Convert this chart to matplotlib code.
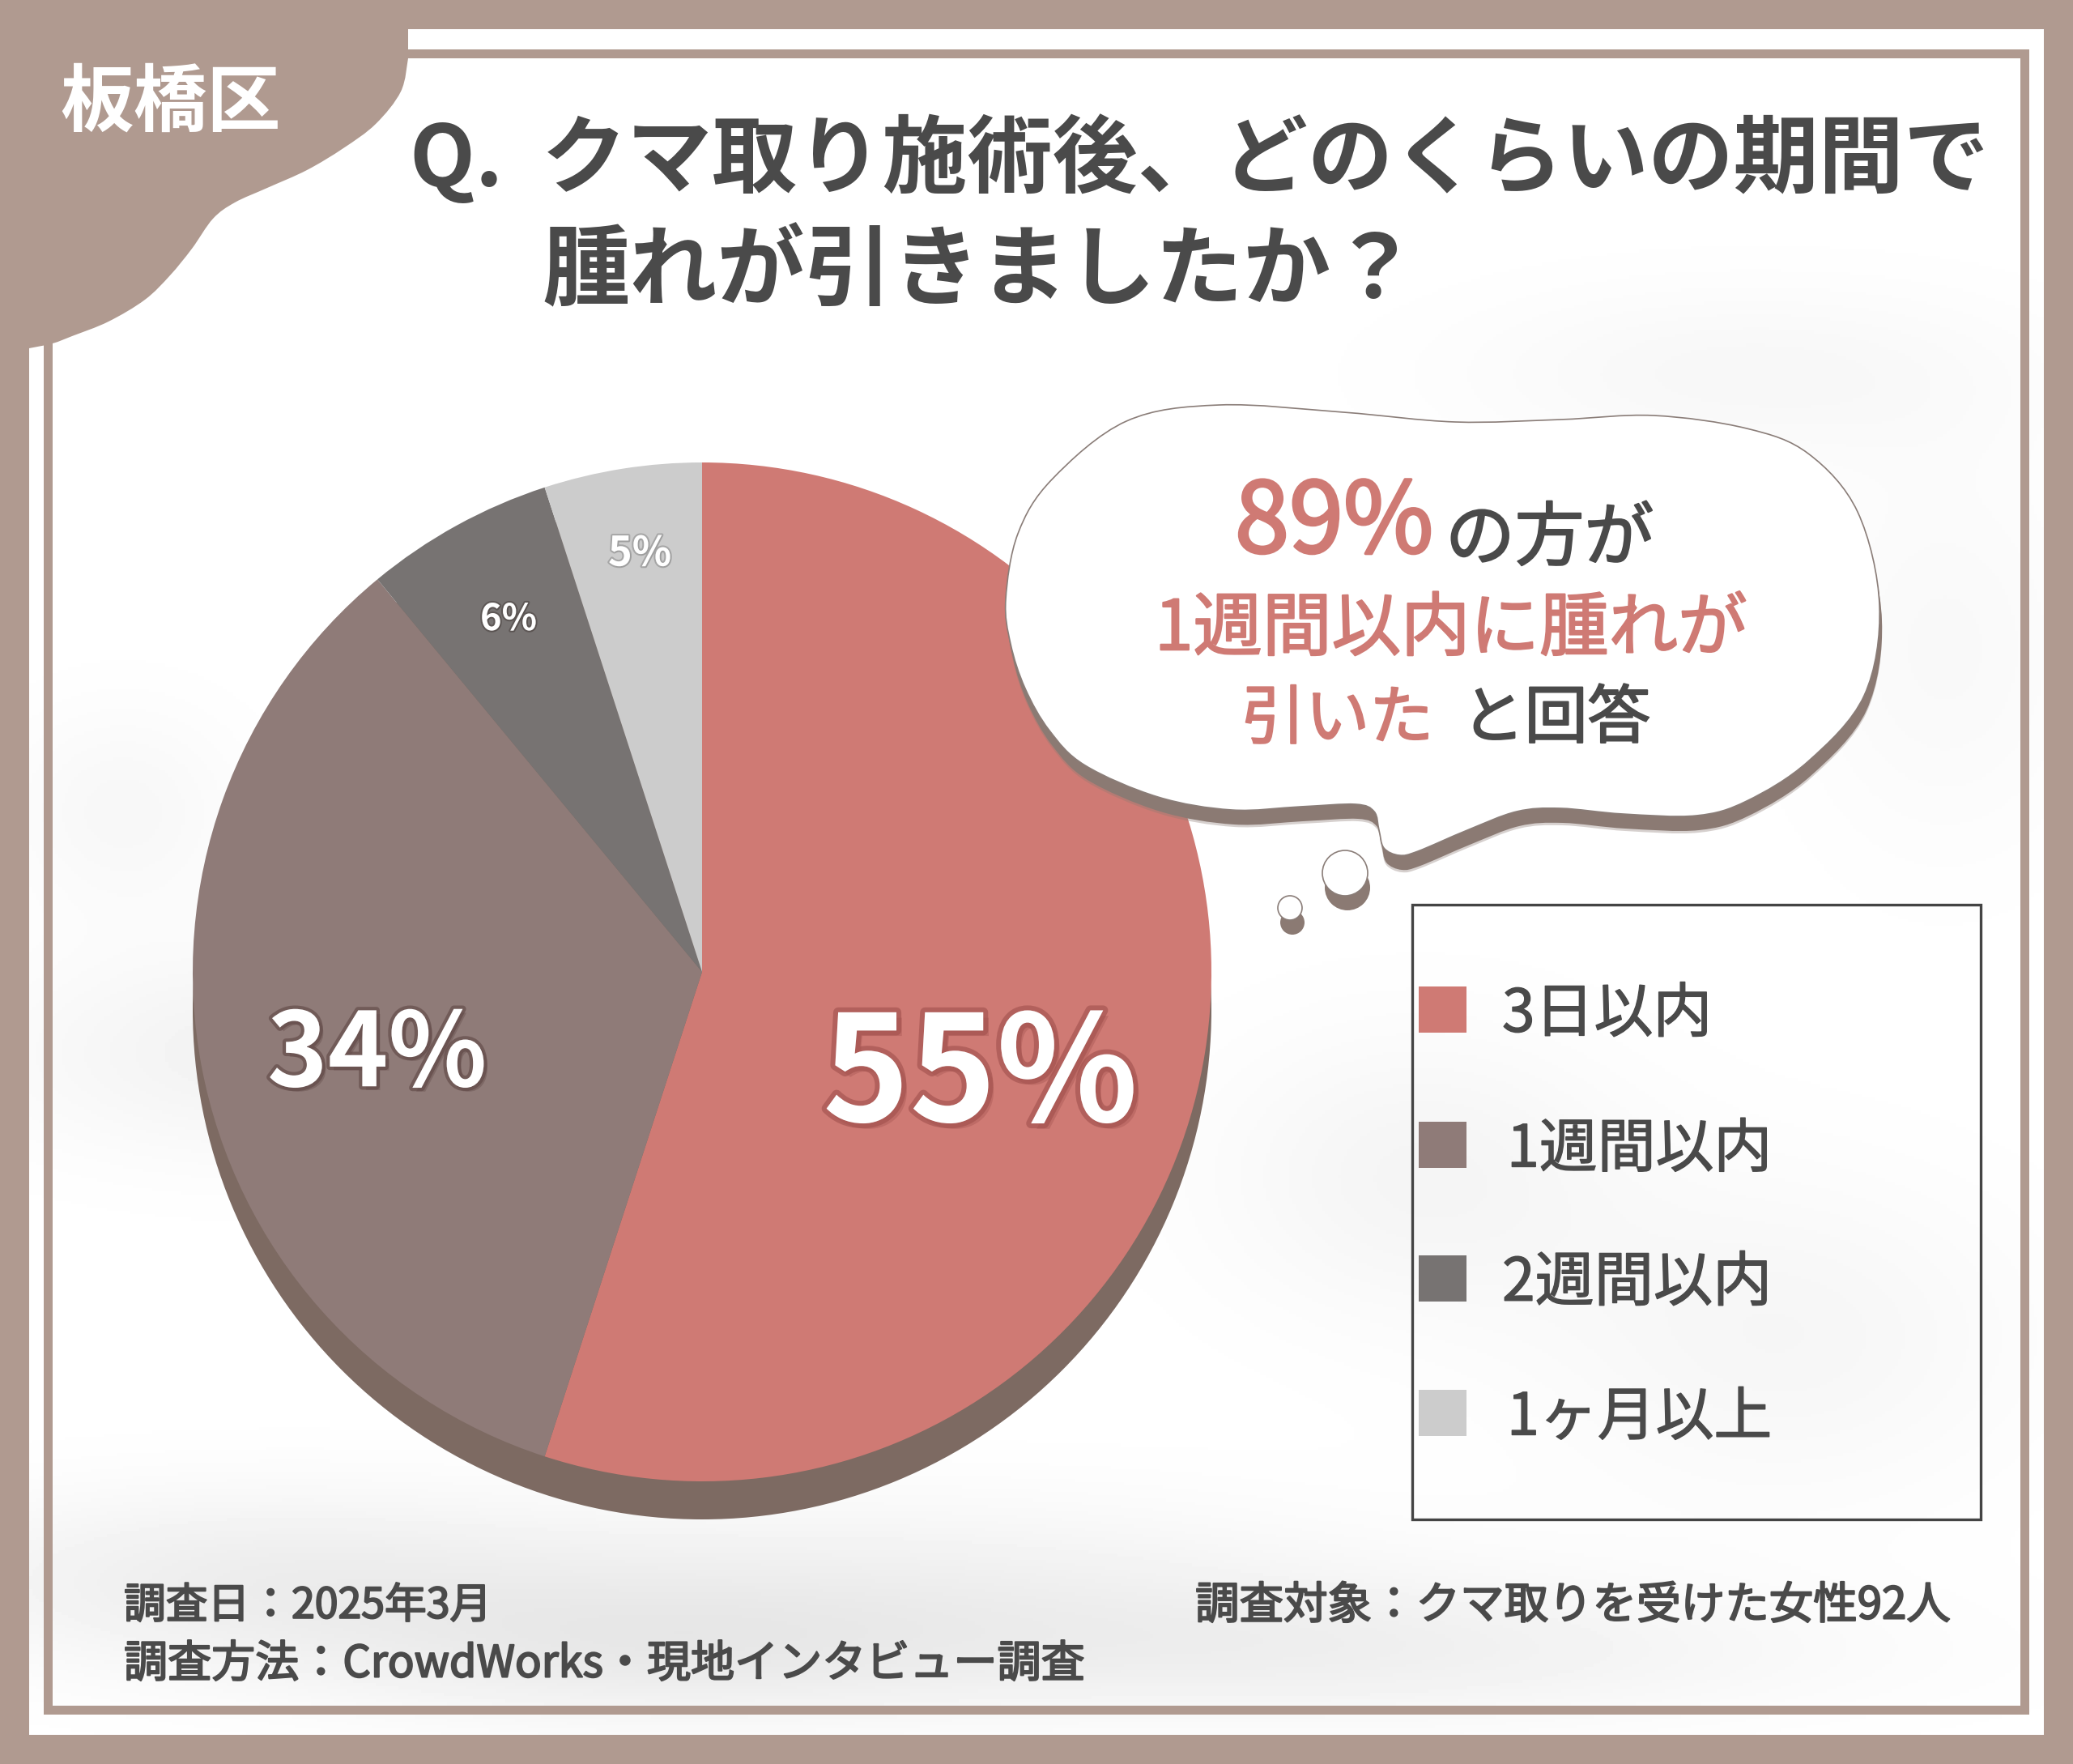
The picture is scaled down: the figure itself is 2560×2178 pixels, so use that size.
import numpy as np
import matplotlib
matplotlib.use("Agg")
import matplotlib.pyplot as plt
from matplotlib.patches import PathPatch, Rectangle, Ellipse
from matplotlib.path import Path
import matplotlib.patheffects as pe

plt.rcParams['font.family'] = ['Noto Sans CJK JP', 'DejaVu Sans']

# ---------- data ----------
categories = ['3日以内', '1週間以内', '2週間以内', '1ヶ月以上']
values = [55, 34, 6, 5]
colors = ['#CF7A74', '#8F7B78', '#777372', '#CCCCCC']
title_lines = ['Q.  クマ取り施術後、どのくらいの期間で', '腫れが引きましたか？']
area_name = '板橋区'
footer = ['調査日：2025年3月', '調査方法：CrowdWorks・現地インタビュー調査', '調査対象：クマ取りを受けた女性92人']

W, H = 2560, 2178
BG = '#B09A90'
DARK = '#4A4A4A'
RED = '#CF7A74'


def Y(y):
    return H - y


fig = plt.figure(figsize=(W / 100, H / 100), dpi=100, facecolor=BG)
ax = fig.add_axes([0, 0, 1, 1])
renderer = fig.canvas.get_renderer()

# ---------- pie ----------
cx, cy, R = 867, 1200, 629
ax.pie([sum(values)], colors=['#7D6A62'], center=(cx, Y(cy + 47)), radius=R,
       wedgeprops={'zorder': 3, 'linewidth': 0})
ax.pie(values, colors=colors, startangle=90, counterclock=False,
       center=(cx, Y(cy)), radius=R, wedgeprops={'zorder': 4, 'linewidth': 0})

# ---------- panel ----------
ax.add_patch(Rectangle((36, Y(2142)), 2524 - 36, 2142 - 36, fc='white', ec='none', zorder=0))
yy, xx = np.mgrid[36:2142:4, 36:2524:4]
blobs = [(330, 1300, 330, 130, .05), (300, 1950, 420, 110, .06), (800, 2040, 420, 90, .06),
         (150, 1000, 150, 130, .03), (1750, 1450, 260, 180, .04), (2200, 1650, 300, 200, .035),
         (1650, 2040, 600, 90, .055), (2150, 460, 350, 110, .03), (2400, 800, 180, 250, .025),
         (1100, 1950, 600, 110, .045)]
shade = np.zeros_like(xx, dtype=float)
for bx, by, sx, sy, a in blobs:
    shade += a * np.exp(-((xx - bx) / sx) ** 2 - ((yy - by) / sy) ** 2)
ax.imshow(np.clip(1 - shade, 0, 1), cmap='gray', vmin=0, vmax=1, aspect='auto',
          extent=(36, 2524, Y(2142), Y(36)), origin='upper', zorder=0.5)
# inner frame
for (x0, y0, x1, y1) in [(54, 61, 2506, 72), (54, 2106, 2506, 2117), (54, 61, 65, 2117), (2495, 61, 2506, 2117)]:
    ax.add_patch(Rectangle((x0, Y(y1)), x1 - x0, y1 - y0, fc=BG, ec='none', zorder=1))


def curve_segments(P, closed):
    """Catmull-Rom through P, as cubic Bezier vertices."""
    n = len(P)
    v, c = [], []
    for i in range(n if closed else n - 1):
        p0 = P[i - 1] if (closed or i > 0) else P[i]
        p1 = P[i]
        p2 = P[(i + 1) % n]
        p3 = P[(i + 2) % n] if (closed or i + 2 < n) else p2
        v += [p1 + (p2 - p0) / 6, p2 - (p3 - p1) / 6, p2]
        c += [Path.CURVE4] * 3
    return v, c


def to_xy(pts):
    P = np.asarray(pts, float)
    P[:, 1] = H - P[:, 1]
    return P


def smooth_closed(pts):
    P = to_xy(pts)
    v, c = curve_segments(P, True)
    return Path(np.array([P[0]] + v), [Path.MOVETO] + c)


# corner tab
tab_edge = [(504, 72), (495, 113), (464, 153), (424, 183), (379, 210), (330, 232), (290, 250),
            (263, 270), (237, 307), (210, 340), (179, 370), (134, 397), (89, 415), (65, 424), (36, 430)]
E = to_xy(tab_edge)
tv, tc = curve_segments(E, False)
tab_path = Path(np.array([[0, H], [504, H], E[0]] + tv + [[0, Y(430)], [0, H]]),
                [Path.MOVETO, Path.LINETO, Path.LINETO] + tc + [Path.LINETO, Path.CLOSEPOLY])
ax.add_patch(PathPatch(tab_path, fc=BG, ec='none', zorder=2))

# ---------- bubble ----------
bubble = [(1242, 740), (1257, 659), (1299, 592), (1391, 520), (1506, 500), (1659, 509), (1797, 521), (1927, 518),
          (2042, 513), (2157, 529), (2233, 560), (2294, 632), (2321, 748), (2302, 859), (2233, 940),
          (2157, 989), (2095, 1007), (2004, 1005), (1927, 998), (1873, 1002), (1812, 1025), (1751, 1051),
          (1728, 1056), (1709, 1047), (1703, 1025), (1697, 1002), (1674, 993), (1606, 996), (1521, 1000),
          (1430, 984), (1340, 945), (1296, 902), (1266, 850), (1248, 795)]
SH = '#8B7A73'
sdx, sdy = 3, 18
for off, a in [(3, .35), (0, 1)]:
    ax.add_patch(PathPatch(smooth_closed([(x + sdx, y + sdy + off) for x, y in bubble]), fc=SH, ec='none',
                           alpha=a, zorder=6))
ax.add_patch(PathPatch(smooth_closed(bubble), fc='white', ec='#8A7D78', lw=1.2, zorder=7))
for ex, ey, r in [(1661, 1078, 28), (1593, 1121, 15)]:
    ax.add_patch(Ellipse((ex + sdx, Y(ey + sdy)), 2 * r, 2 * r, fc=SH, ec='none', zorder=6))
    ax.add_patch(Ellipse((ex, Y(ey)), 2 * r, 2 * r, fc='white', ec='#8A7D78', lw=1.2, zorder=7))


# ---------- text helper ----------
def fit(s, x0, x1, y, color=DARK, weight='normal', va='center', z=10, effects=None, fatten=0):
    t = ax.text(x0, Y(y + 6), s, ha='left', va=va, color=color, fontsize=40, fontweight=weight, zorder=z)
    t.set_fontsize(40 * (x1 - x0) / t.get_window_extent(renderer).width)
    fx = list(effects or [])
    if fatten:
        fx += [pe.Stroke(linewidth=fatten, foreground=color), pe.Normal()]
    if fx:
        t.set_path_effects(fx)
    return t


fit(area_name, 74, 346, 122, color='white', weight='bold')
fit(title_lines[0], 506, 2454, 191, weight='bold')
fit(title_lines[1], 669, 1750, 331, weight='bold')

# bubble text
fit('89%', 1525, 1770, 704, color=RED, va='bottom', fatten=2.5)
fit('の方が', 1785, 2042, 705, va='bottom', fatten=1.5)
fit('1週間以内に腫れが', 1426, 2157, 772, color=RED, fatten=1.5)
fit('引いた', 1533, 1770, 883, color=RED, fatten=1.5)
fit('と回答', 1805, 2038, 883, fatten=1.5)

# pie labels
label_boxes = [(1016, 1404, 1326), (330, 601, 1298), (593, 663, 759), (751, 829, 678)]
glows = ['#A0504C', '#5E4644', '#4E4644', '#8E8E8E']
for v, (x0, x1, y), g in zip(values, label_boxes, glows):
    w = (x1 - x0) / 40
    fit(f'{v}%', x0, x1, y, color='white', weight='bold', z=9, effects=[
        pe.SimplePatchShadow(offset=(w * .5, -w * .5), shadow_rgbFace=g, alpha=.35),
        pe.Stroke(linewidth=max(3, w * .9), foreground=g, alpha=.6),
        pe.Normal()])

# ---------- legend ----------
ax.add_patch(Rectangle((1744, Y(1876)), 2446 - 1744, 1876 - 1117, fc='none', ec='#444444', lw=2.4, zorder=8))
ys = [1247, 1414, 1579, 1745]
tx = [(1855, 2114), (1861, 2188), (1855, 2188), (1861, 2188)]
for cat, col, y, (x0, x1) in zip(categories, colors, ys, tx):
    ax.add_patch(Rectangle((1752, Y(y + 28)), 59, 57, fc=col, ec='none', zorder=8))
    fit(cat, x0, x1, y, fatten=1)

# ---------- footer ----------
fit(footer[0], 153, 607, 1977, fatten=1.5)
fit(footer[1], 153, 1339, 2049, fatten=1.5)
fit(footer[2], 1476, 2408, 1977, fatten=1.5)

ax.set_aspect('equal')
ax.set_xlim(0, W)
ax.set_ylim(0, H)
ax.axis('off')
fig.savefig('out.png', dpi=100, facecolor=BG)
